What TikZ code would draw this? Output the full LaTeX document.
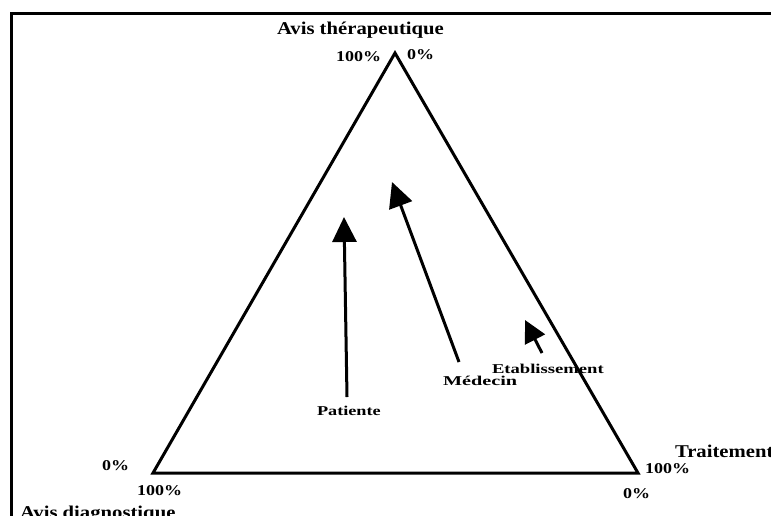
\documentclass[tikz,border=0pt]{standalone}
\usepackage{fontspec}
\setmainfont{Liberation Serif}
\usetikzlibrary{arrows.meta}
\newcommand\ttl[1]{\scalebox{1.15}[1]{\fontsize{18pt}{18pt}\selectfont\bfseries #1}}
\newcommand\pct[1]{\scalebox{1.2}[1]{\fontsize{15pt}{15pt}\selectfont\bfseries #1}}
\newcommand\lbl[2]{\scalebox{#1}[1]{\fontsize{13.5pt}{13.5pt}\selectfont\bfseries #2}}
\tikzset{
  txt/.style={inner sep=0pt, outer sep=0pt, anchor=base west},
  edge/.style={line width=3pt, line join=miter},
  arr/.style={line width=3pt, -{Triangle[length=25pt,width=24pt]}},
}
\begin{document}
\begin{tikzpicture}[x=1pt,y=-1pt]
\useasboundingbox (0,0) rectangle (771,515);
% frame
\draw[line width=3pt] (11,516) -- (11,13) -- (772,13);
% triangle
\coordinate (A) at (395,53);
\coordinate (B) at (153,473);
\coordinate (C) at (638,473);
\draw[edge] (A) -- (B) -- (C) -- cycle;
% labels at vertices
\node[txt] (tt) at (277,34) {\ttl{Avis thérapeutique}};
\node[txt] (ta) at (336,61) {\pct{100\%}};
\node[txt] (tb) at (407,59) {\pct{0\%}};
\node[txt] (la) at (102,470) {\pct{0\%}};
\node[txt] (lb) at (137,495) {\pct{100\%}};
\node[txt] (lt) at (20,518) {\ttl{Avis diagnostique}};
\node[txt] (rt) at (675,457) {\ttl{Traitement}};
\node[txt] (ra) at (645,473) {\pct{100\%}};
\node[txt] (rb) at (623,498) {\pct{0\%}};
% arrows
\coordinate (p0) at (347,397);
\coordinate (p1) at (344,217);
\coordinate (m0) at (459,362);
\coordinate (m1) at (392,182);
\coordinate (e0) at (542,353);
\coordinate (e1) at (525,320);
\draw[arr] (p0) -- (p1);
\draw[arr] (m0) -- (m1);
\draw[line width=3pt, -{Triangle[length=22pt,width=22pt]}] (e0) -- (e1);
\node[txt] (pat) at (317,415) {\lbl{1.35}{Patiente}};
\node[txt] (med) at (443,385) {\lbl{1.5}{Médecin}};
\node[txt] (eta) at (492,373) {\lbl{1.38}{Etablissement}};
\end{tikzpicture}
\end{document}
